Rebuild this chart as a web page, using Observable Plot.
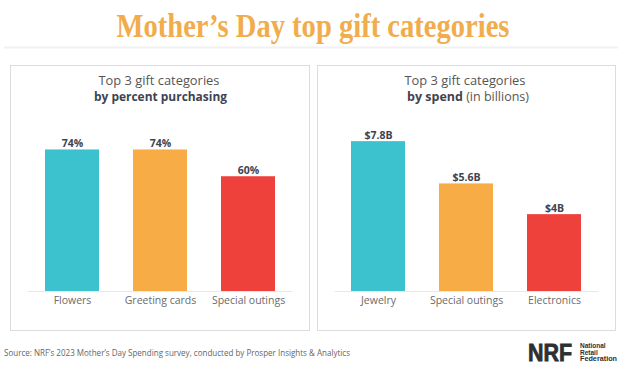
<!DOCTYPE html>
<html>
<head>
<meta charset="utf-8">
<script src="https://cdn.jsdelivr.net/npm/d3@7"></script>
<script src="https://cdn.jsdelivr.net/npm/@observablehq/plot@0.6"></script>
<style>
  html, body { margin: 0; padding: 0; background: #fff; }
  #page { position: relative; width: 626px; height: 374px; overflow: hidden; }
  #bg { position: absolute; left: 0; top: 0; }
  .chart { position: absolute; top: 110px; }
  #left { left: 10px; }
  #right { left: 317px; }
</style>
</head>
<body>
<div id="page">
  <svg id="bg" width="626" height="374" xmlns="http://www.w3.org/2000/svg">
    <line x1="4" x2="618" y1="47.5" y2="47.5" stroke="#f1f1f1" stroke-width="2"/>
    <rect x="10.5" y="65.5" width="299" height="265" fill="#fff" stroke="#dcdcdc"/>
    <rect x="317.5" y="65.5" width="298" height="265" fill="#fff" stroke="#dcdcdc"/>
    <text x="313" y="37" text-anchor="middle" textLength="393" lengthAdjust="spacingAndGlyphs"
          font-family="Liberation Serif" font-weight="bold" font-size="33" fill="#F1AC4C">Mother’s Day top gift categories</text>
    <text x="159" y="84.5" text-anchor="middle" textLength="121" lengthAdjust="spacingAndGlyphs" font-family="Open Sans" font-size="12" fill="#555">Top 3 gift categories</text>
    <text x="160.5" y="101" text-anchor="middle" textLength="133" lengthAdjust="spacingAndGlyphs" font-family="Open Sans" font-size="12" font-weight="bold" fill="#3d4350">by percent purchasing</text>
    <text x="465" y="84.5" text-anchor="middle" textLength="121" lengthAdjust="spacingAndGlyphs" font-family="Open Sans" font-size="12" fill="#555">Top 3 gift categories</text>
    <text x="468" y="101" text-anchor="middle" textLength="122" lengthAdjust="spacingAndGlyphs" font-family="Open Sans" font-size="12" fill="#555"><tspan font-weight="bold" fill="#3d4350">by spend</tspan> (in billions)</text>
    <text x="4" y="355.5" textLength="346" lengthAdjust="spacingAndGlyphs" font-family="Open Sans" font-size="8.5" fill="#666">Source: NRF’s 2023 Mother’s Day Spending survey, conducted by Prosper Insights &amp; Analytics</text>
    <text x="528" y="360.5" textLength="44" lengthAdjust="spacingAndGlyphs" font-family="Liberation Sans" font-weight="bold" font-size="23.5" fill="#2e2f33" stroke="#2e2f33" stroke-width="0.8">NRF</text>
    <text x="580" y="348" font-family="Liberation Sans" font-weight="bold" font-size="6.5" fill="#2e2f33">National</text>
    <text x="580" y="354.5" font-family="Liberation Sans" font-weight="bold" font-size="6.5" fill="#2e2f33">Retail</text>
    <text x="580" y="361" textLength="37" lengthAdjust="spacingAndGlyphs" font-family="Liberation Sans" font-weight="bold" font-size="6.5" fill="#2e2f33">Federation</text>
  </svg>
  <div id="left" class="chart"></div>
  <div id="right" class="chart"></div>
</div>
<script>
// Left panel: percent purchasing
const pctCategories = ["Flowers", "Greeting cards", "Special outings"];
const pctValues = [74, 74, 60];
const pctLabels = ["74%", "74%", "60%"];

// Right panel: spend in billions
const spendCategories = ["Jewelry", "Special outings", "Electronics"];
const spendValues = [7.8, 5.6, 4];
const spendLabels = ["$7.8B", "$5.6B", "$4B"];

const barColors = ["#3CC1CF", "#F8AC45", "#EE413C"];

function makeChart(cats, vals, labels, yMax, width, mLeft, mRight) {
  const data = cats.map((c, i) => ({cat: c, value: vals[i], label: labels[i]}));
  return Plot.plot({
    width, height: 211,
    marginTop: 10, marginBottom: 30, marginLeft: mLeft, marginRight: mRight,
    style: {fontFamily: "Open Sans", fontSize: "10.5px", color: "#6b6b6b", background: "transparent"},
    x: {domain: cats, paddingInner: 0.386, paddingOuter: 0.193, label: null},
    y: {domain: [0, yMax], axis: null},
    color: {domain: cats, range: barColors},
    marks: [
      Plot.ruleY([0], {stroke: "#e8e8e8", strokeWidth: 1}),
      Plot.barY(data, {x: "cat", y: "value", fill: "cat"}),
      Plot.text(data, {x: "cat", y: "value", text: "label", dy: -6, fontWeight: "bold", fontSize: 10.5, fill: "#3d4350"}),
      Plot.axisX({tickSize: 0, tickPadding: 5, fontSize: 10.5, label: null})
    ]
  });
}

document.getElementById("left").append(makeChart(pctCategories, pctValues, pctLabels, 89.4, 300, 18, 18));
document.getElementById("right").append(makeChart(spendCategories, spendValues, spendLabels, 8.9, 299, 17.5, 17.5));
</script>
</body>
</html>
